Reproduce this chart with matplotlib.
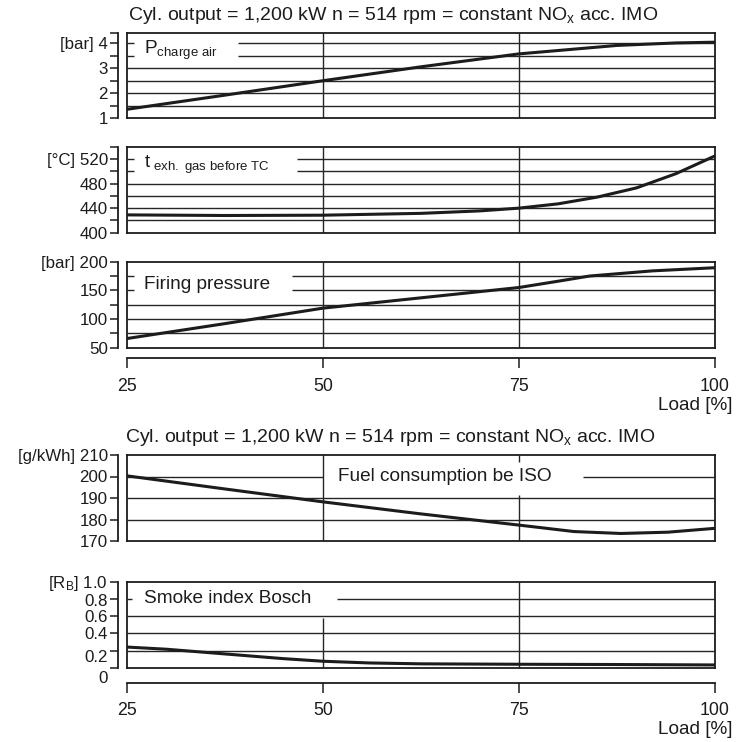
import matplotlib
matplotlib.use("Agg")
import matplotlib.pyplot as plt
from matplotlib.transforms import ScaledTranslation

plt.rcParams['font.family'] = ['Liberation Sans', 'DejaVu Sans']
plt.rcParams['mathtext.fontset'] = 'custom'
plt.rcParams['mathtext.rm'] = 'Liberation Sans'
plt.rcParams['mathtext.it'] = 'Liberation Sans:italic'

# ---------------- data ----------------
title_text = r"Cyl. output = 1,200 kW n = 514 rpm = constant NO$_\mathregular{x}$ acc. IMO"
xlabel_text = "Load [%]"
load_ticks = [25, 50, 75, 100]

# P charge air [bar]
p_load = [25, 37.5, 50, 62.5, 75, 87.5, 95, 100]
p_val = [1.35, 1.92, 2.5, 3.06, 3.58, 3.92, 4.02, 4.05]
p_ticks = [1, 1.5, 2, 2.5, 3, 3.5, 4, 4.42]
p_ticklabels = ['1', '', '2', '', '3', '', '[bar] 4', '']

# exhaust gas temperature before TC [°C]
t_load = [25, 37.5, 50, 62.5, 70, 75, 80, 85, 90, 95, 100]
t_val = [429, 428, 428.5, 431.5, 435.5, 440, 447, 458, 473, 496, 525]
t_ticks = [400, 420, 440, 460, 480, 500, 520, 540]
t_ticklabels = ['400', '', '440', '', '480', '', '[°C] 520', '']

# firing pressure [bar]
f_load = [25, 37.5, 50, 62.5, 75, 80, 84, 92, 100]
f_val = [66, 92, 119, 137, 155, 166, 175, 184, 189.5]
f_ticks = [50, 75, 100, 125, 150, 175, 200]
f_ticklabels = ['50', '', '100', '', '150', '', '[bar] 200']

# fuel consumption be ISO [g/kWh]
b_load = [25, 37.5, 50, 62.5, 75, 82, 88, 94, 100]
b_val = [200.3, 194.2, 188.2, 182.6, 177.4, 174.4, 173.5, 174.1, 175.9]
b_ticks = [170, 180, 190, 200, 210]
b_ticklabels = ['170', '180', '190', '200', '[g/kWh] 210']

# smoke index Bosch [R_B]
s_load = [25, 30, 37.5, 45, 50, 56, 62.5, 75, 87.5, 100]
s_val = [0.24, 0.215, 0.16, 0.105, 0.075, 0.055, 0.045, 0.04, 0.037, 0.032]
s_ticks = [0, 0.2, 0.4, 0.6, 0.8, 1.0]
s_ticklabels = ['0', '0.2', '0.4', '0.6', '0.8', r'[R$_\mathregular{B}$] 1.0']

# ---------------- layout ----------------
W, H = 738, 742
fig = plt.figure(figsize=(W / 100, H / 100), dpi=100)

INK = '#1c1c1c'
GRID = '#262626'
FS_TICK = 12.2
FS_LBL = 13.7
FS_TITLE = 14.0

def make_ax(top_px, bot_px):
    left, right = 127, 715
    return fig.add_axes([left / W, 1 - bot_px / H, (right - left) / W, (bot_px - top_px) / H])

def style(ax, ylim, ticks, labels, xaxis_offset=None):
    ax.set_xlim(25, 100)
    ax.set_ylim(*ylim)
    for s in ['top', 'right', 'bottom', 'left']:
        ax.spines[s].set_color(INK)
        ax.spines[s].set_linewidth(1.3)
    ax.spines['left'].set_position(('outward', 6.5))
    ax.axvline(25, color=INK, lw=1.3, clip_on=False)
    ax.set_yticks(ticks)
    ax.set_yticklabels(labels)
    ax.tick_params(axis='y', direction='out', length=5.8, width=1.1, color=INK,
                   labelsize=FS_TICK, pad=1.5, labelcolor=INK)
    if xaxis_offset is None:
        ax.set_xticks([])
    else:
        ax.spines['bottom'].set_position(('outward', xaxis_offset))
        ax.axhline(ylim[0], color=INK, lw=1.3, clip_on=False)
        ax.set_xticks(load_ticks)
        ax.set_xticklabels([str(v) for v in load_ticks])
        ax.tick_params(axis='x', direction='out', length=7, width=1.1, color=INK,
                       labelsize=FS_TICK + 0.6, pad=7, labelcolor=INK)

def hgrid(ax, y, x0=25, x1=100):
    ax.hlines(y, x0, x1, color=GRID, lw=1.0, zorder=1)

def vgrid(ax, x, y0, y1):
    ax.vlines(x, y0, y1, color=GRID, lw=1.0, zorder=1)

def curve(ax, x, y):
    ax.plot(x, y, color=INK, lw=2.2, solid_capstyle='butt', zorder=3, clip_on=False)

STUB = 25.9

# Panel 1: P charge air
ax1 = make_ax(33, 118)
style(ax1, (1, 4.42), p_ticks, p_ticklabels)
for y in [1.5, 2, 2.5, 3]:
    hgrid(ax1, y)
for y in [3.5, 4]:
    hgrid(ax1, y, 25, STUB)
    hgrid(ax1, y, 39.2, 100)
vgrid(ax1, 50, 1, 4.42)
vgrid(ax1, 75, 1, 4.42)
curve(ax1, p_load, p_val)
ax1.text(27.2, 3.72, r"P$_\mathregular{charge\ air}$", fontsize=FS_LBL, color=INK, va='center', ha='left')

# Panel 2: exhaust gas temperature
ax2 = make_ax(146.7, 232.7)
style(ax2, (400, 540), t_ticks, t_ticklabels)
for y in [420, 440, 460, 480]:
    hgrid(ax2, y)
for y in [500, 520]:
    hgrid(ax2, y, 25, STUB)
    hgrid(ax2, y, 46.7, 100)
vgrid(ax2, 50, 400, 540)
vgrid(ax2, 75, 400, 540)
curve(ax2, t_load, t_val)
ax2.text(27.2, 510, r"t$_\mathregular{\ exh.\ gas\ before\ TC}$", fontsize=FS_LBL, color=INK, va='center', ha='left')

# Panel 3: firing pressure
ax3 = make_ax(261.7, 347.7)
style(ax3, (50, 200), f_ticks, f_ticklabels, xaxis_offset=7.6)
for y in [75, 100, 125]:
    hgrid(ax3, y)
for y in [150, 175]:
    hgrid(ax3, y, 25, STUB)
    hgrid(ax3, y, 46.0, 100)
vgrid(ax3, 50, 50, 200)
vgrid(ax3, 75, 50, 200)
curve(ax3, f_load, f_val)
ax3.text(27.2, 161, "Firing pressure", fontsize=FS_LBL, color=INK, va='center', ha='left')

# Panel 4: fuel consumption
ax4 = make_ax(455, 541)
style(ax4, (170, 210), b_ticks, b_ticklabels)
for y in [180, 190]:
    hgrid(ax4, y)
hgrid(ax4, 200, 25, 50)
hgrid(ax4, 200, 83.2, 100)
vgrid(ax4, 50, 170, 210)
vgrid(ax4, 75, 170, 191.4)
vgrid(ax4, 75, 206.7, 210)
curve(ax4, b_load, b_val)
ax4.text(51.9, 200, "Fuel consumption be ISO", fontsize=FS_LBL, color=INK, va='center', ha='left')

# Panel 5: smoke index
ax5 = make_ax(581.7, 667.7)
style(ax5, (0, 1.0), s_ticks, s_ticklabels, xaxis_offset=10.8)
for y in [0.2, 0.4, 0.6]:
    hgrid(ax5, y)
hgrid(ax5, 0.8, 25, 25.7)
hgrid(ax5, 0.8, 51.8, 100)
vgrid(ax5, 50, 0, 0.575)
vgrid(ax5, 75, 0, 1.0)
curve(ax5, s_load, s_val)
ax5.text(27.2, 0.8, "Smoke index Bosch", fontsize=FS_LBL, color=INK, va='center', ha='left')
# some labels sit slightly off their ticks in the original
lbls = ax5.get_yticklabels()
for lbl, dy in zip(lbls, [-9, -6, 0, 0, -1.5, 1]):
    lbl.set_transform(lbl.get_transform() + ScaledTranslation(0, dy / 100, fig.dpi_scale_trans))

# titles and load labels
fig.text(128 / W, 1 - 15 / H, title_text, fontsize=FS_TITLE, color=INK, ha='left', va='center')
fig.text(125 / W, 1 - 437.5 / H, title_text, fontsize=FS_TITLE, color=INK, ha='left', va='center')
fig.text(733 / W, 1 - 405 / H, xlabel_text, fontsize=FS_LBL, color=INK, ha='right', va='center')
fig.text(733 / W, 1 - 730 / H, xlabel_text, fontsize=FS_LBL, color=INK, ha='right', va='center')

fig.savefig("out.png", dpi=100, facecolor='white')
